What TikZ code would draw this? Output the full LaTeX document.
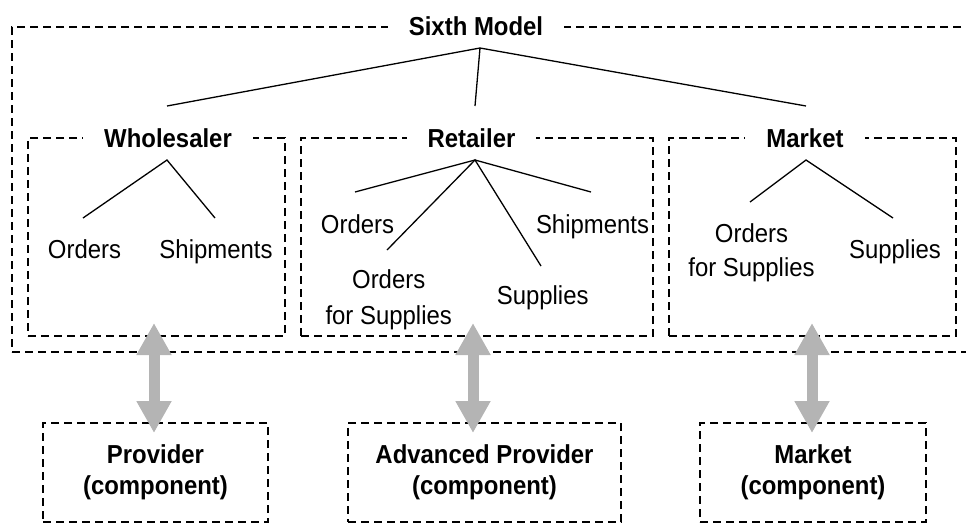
\documentclass[tikz,border=0pt]{standalone}
\usepackage{fontspec}
\setmainfont{Liberation Sans}[FakeStretch=0.92]
\usetikzlibrary{arrows.meta}
\definecolor{arrowgray}{RGB}{180,180,180}
\newcommand{\twoline}[2]{\raisebox{-3.5pt}{\begin{tabular}{@{}c@{}}#1\\#2\end{tabular}}}
\begin{document}
\begin{tikzpicture}[x=1pt,y=-1pt,
  dbox/.style={draw, line width=1.6pt, dash pattern=on 8pt off 5pt, rectangle, inner sep=0pt},
  compbox/.style={dbox, minimum height=99pt, font=\bfseries\fontsize{26}{31}\selectfont},
  ttl/.style={font=\bfseries\fontsize{26}{28}\selectfont, fill=white, inner xsep=21pt, inner ysep=3pt, anchor=base},
  lbl/.style={font=\fontsize{26}{28}\selectfont, anchor=base, inner sep=0pt},
  lbltwo/.style={align=center, anchor=center, inner sep=0pt},
  tree/.style={line width=1.3pt},
  dbl/.style={line width=11pt, draw=arrowgray, {Triangle[length=32pt,width=33pt]}-{Triangle[length=32pt,width=33pt]}}]
\useasboundingbox (0,0) rectangle (966,523);
\clip (0,0) rectangle (966,523);

% outer box (right edge beyond picture)
\node[dbox, minimum width=975pt, minimum height=325pt] (outer) at (499.5,189.5) {};
% inner boxes
\node[dbox, minimum width=257pt, minimum height=198pt] (wbox) at (156.5,237) {};
\node[dbox, minimum width=352pt, minimum height=198pt] (rbox) at (477,237) {};
\node[dbox, minimum width=287pt, minimum height=198pt] (mbox) at (812.5,237) {};

% bottom boxes
\node[compbox, minimum width=225pt] (prov) at (155.5,472.5) {\twoline{Provider}{(component)}};
\node[compbox, minimum width=273pt] (aprov) at (484.5,472.5) {\twoline{Advanced Provider}{(component)}};
\node[compbox, minimum width=226pt] (mcomp) at (813,472.5) {\twoline{Market}{(component)}};

% titles
\node[ttl] (sixth) at (476,35) {Sixth Model};
\node[ttl] (whole) at (168,147) {Wholesaler};
\node[ttl] (retail) at (471.5,147) {Retailer};
\node[ttl] (market) at (805,147) {Market};

% labels
\node[lbl] (wo) at (84.5,258) {Orders};
\node[lbl] (ws) at (216,258) {Shipments};
\node[lbl] (ro) at (357.5,233) {Orders};
\node[lbltwo, font=\fontsize{26}{36}\selectfont] (rof) at (388.7,300.25) {Orders\\for Supplies};
\node[lbl] (rsu) at (542.7,304) {Supplies};
\node[lbl] (rsh) at (592.5,233) {Shipments};
\node[lbltwo, font=\fontsize{26}{34}\selectfont] (mof) at (751.5,253.25) {Orders\\for Supplies};
\node[lbl] (msu) at (895,258) {Supplies};

% tree coordinates
\coordinate (sa) at (480,48);
\coordinate (s1) at (167,106);
\coordinate (s2) at (475,106);
\coordinate (s3) at (806,106);
\coordinate (wa) at (167,160);
\coordinate (w1) at (83,218);
\coordinate (w2) at (215,218);
\coordinate (ra) at (475,160);
\coordinate (r1) at (355,192);
\coordinate (r2) at (387,250);
\coordinate (r3) at (541,266);
\coordinate (r4) at (591,192);
\coordinate (ma) at (806,160);
\coordinate (m1) at (750,202);
\coordinate (m2) at (893,218);

\draw[tree] (s1) -- (sa) -- (s3);
\draw[tree] (sa) -- (s2);
\draw[tree] (w1) -- (wa) -- (w2);
\draw[tree] (r1) -- (ra) -- (r4);
\draw[tree] (r2) -- (ra) -- (r3);
\draw[tree] (m1) -- (ma) -- (m2);

% double arrows
\coordinate (a1t) at (154,323);
\coordinate (a1b) at (154,433);
\coordinate (a2t) at (473,323);
\coordinate (a2b) at (473,433);
\coordinate (a3t) at (812,323);
\coordinate (a3b) at (812,433);
\draw[dbl] (a1t) -- (a1b);
\draw[dbl] (a2t) -- (a2b);
\draw[dbl] (a3t) -- (a3b);
\end{tikzpicture}
\end{document}
